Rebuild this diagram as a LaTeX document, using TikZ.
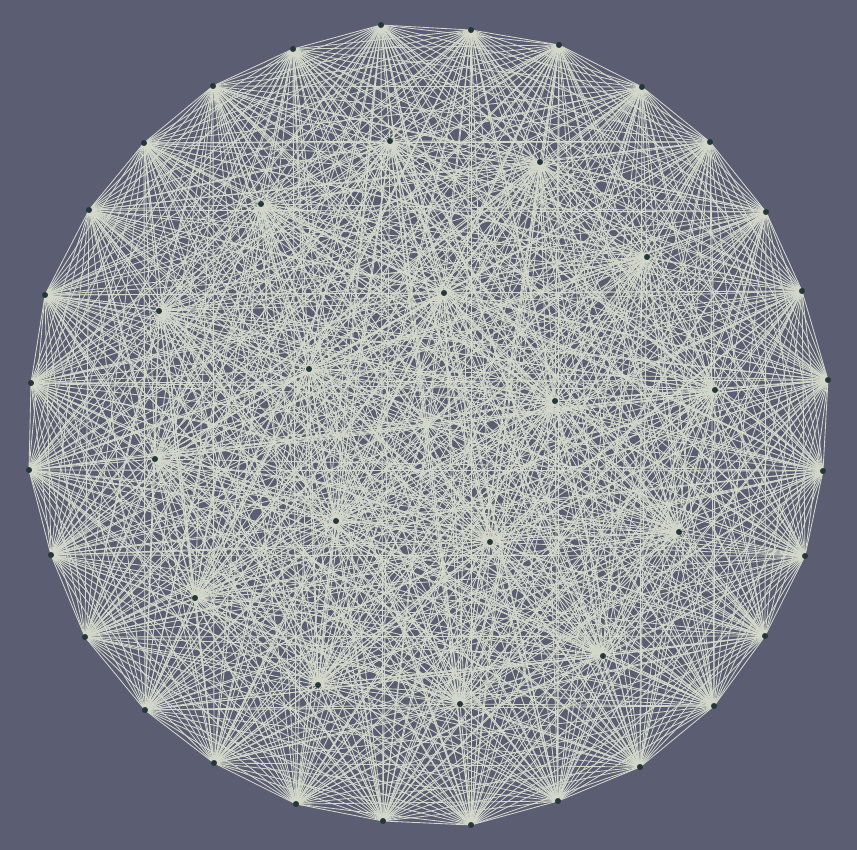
\documentclass[tikz,border=0pt]{standalone}
\usetikzlibrary{backgrounds}
\definecolor{bg}{HTML}{5B5D73}
\definecolor{edgecol}{HTML}{D3D8CB}
\definecolor{nodecol}{HTML}{1E3A3A}
\pgfdeclarelayer{edgelayer}
\pgfsetlayers{background,edgelayer,main}
\tikzset{
  vtx/.style={circle,fill=nodecol,draw=black!80,line width=0.4pt,inner sep=0pt,minimum size=5.5pt},
  edge/.style={draw=edgecol,line width=0.85pt}
}
\begin{document}
\begin{tikzpicture}[x=1pt,y=-1pt]
\begin{pgfonlayer}{background}
\fill[bg] (0,0) rectangle (857,850);
\end{pgfonlayer}
\useasboundingbox (0,0) rectangle (857,850);
\foreach \k/\x/\y in {
1/381/25, 2/471/30, 3/559/45, 4/642/87, 5/710/142, 6/766/212, 7/802/291, 8/828/380,
9/823/471, 10/805/556, 11/765/636, 12/714/706, 13/640/767, 14/558/801, 15/471/825,
16/383/821, 17/296/804, 18/214/763, 19/145/710, 20/85/637, 21/51/555, 22/29/470,
23/31/383, 24/45/295, 25/89/210, 26/144/143, 27/213/86, 28/293/49,
29/390/141, 30/540/162, 31/261/204, 32/647/257, 33/444/293, 34/159/311, 35/309/369,
36/715/390, 37/555/401, 38/155/459, 39/336/521, 40/490/542, 41/679/532, 42/195/598,
43/603/656, 44/318/685, 45/460/704}{
  \node[vtx] (n\k) at (\x,\y) {};
}
\begin{pgfonlayer}{edgelayer}
\foreach \i in {1,...,44}{
  \pgfmathtruncatemacro\s{\i+1}
  \foreach \j in {\s,...,45}{
    \draw[edge] (n\i.center) -- (n\j.center);
  }
}
\end{pgfonlayer}
\end{tikzpicture}
\end{document}
